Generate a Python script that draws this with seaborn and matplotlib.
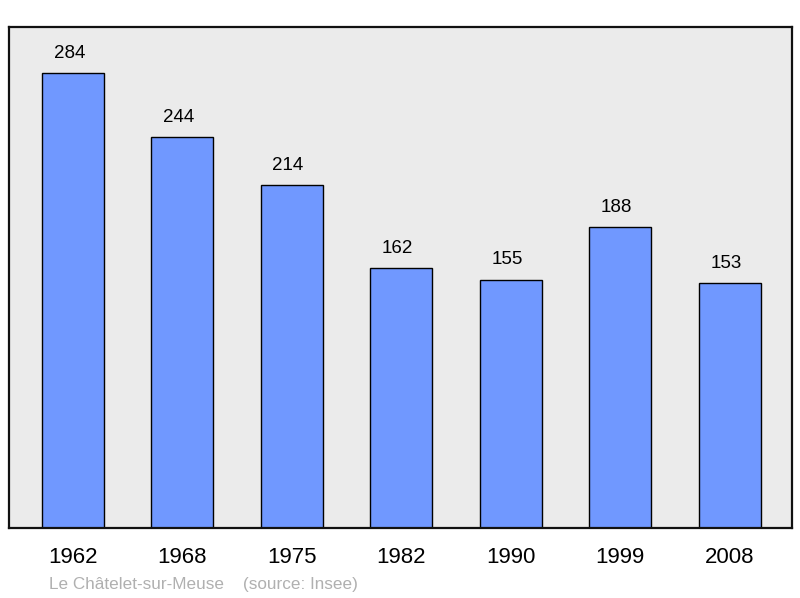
import pandas as pd
import seaborn as sns
import matplotlib.pyplot as plt

years = ["1962", "1968", "1975", "1982", "1990", "1999", "2008"]
population = [284, 244, 214, 162, 155, 188, 153]
commune = "Le Châtelet-sur-Meuse"
source = "(source: Insee)"

data = pd.DataFrame({"year": years, "pop": population})

sns.set_theme(style="white")
plt.rcParams["font.family"] = ["Liberation Sans", "DejaVu Sans"]

fig = plt.figure(figsize=(8, 5.98), dpi=100)
ax = fig.add_axes([9 / 800, 70 / 598, 783 / 800, 501 / 598])
ax.set_facecolor("#ebebeb")

sns.barplot(data=data, x="year", y="pop", color="#7098ff", saturation=1,
            width=0.567, edgecolor="black", linewidth=1.0, ax=ax)

# value labels sit a little left of the bar centre in the original
for i, v in enumerate(population):
    ax.text(i - 0.035, v + 7, str(v), ha="center", va="bottom", fontsize=13.5, color="black")

ax.set_xlim(-0.585, 6.57)
ax.set_ylim(0, 312.7)
ax.set_yticks([])
ax.set_xlabel("")
ax.set_ylabel("")
ax.tick_params(axis="x", length=0, pad=14, labelsize=16, labelcolor="black")
for s in ax.spines.values():
    s.set_linewidth(1.6)
    s.set_color("#111111")

fig.text(49 / 800, 1 - 584 / 598, commune + "    " + source, fontsize=12.3,
         color="#b0b0b0", ha="left", va="center")

fig.savefig("out.png", dpi=100)
